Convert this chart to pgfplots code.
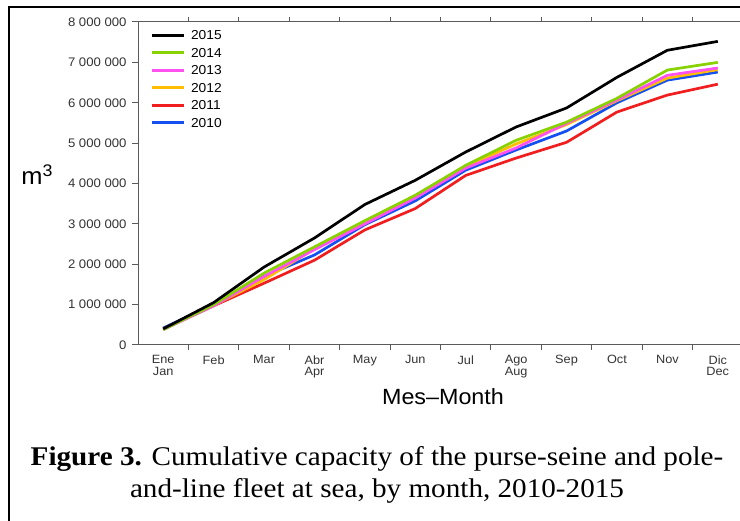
\documentclass[border=0pt]{standalone}
\usepackage{pgfplots}
\pgfplotsset{compat=1.18}
\usepackage{pgfplotstable}
\usepackage{fontspec}
\setmainfont[FakeStretch=1.06]{Liberation Sans}
\newfontfamily\capfont[FakeStretch=1.08]{Liberation Serif}
\definecolor{c2015}{RGB}{0,0,0}
\definecolor{c2014}{RGB}{135,210,0}
\definecolor{c2013}{RGB}{255,80,240}
\definecolor{c2012}{RGB}{255,190,0}
\definecolor{c2011}{RGB}{240,30,30}
\definecolor{c2010}{RGB}{20,80,240}
\definecolor{axgray}{RGB}{90,90,90}

\pgfplotstableread{
m   y2010   y2011   y2012   y2013   y2014   y2015
0   420000  400000  390000  380000  380000  400000
1   1000000 970000  980000  970000  1000000 1050000
2   1700000 1530000 1620000 1700000 1780000 1930000
3   2230000 2100000 2380000 2360000 2430000 2650000
4   2980000 2850000 3020000 3000000 3080000 3480000
5   3570000 3380000 3660000 3640000 3710000 4080000
6   4330000 4200000 4420000 4380000 4450000 4780000
7   4830000 4630000 4980000 4880000 5070000 5400000
8   5300000 5020000 5460000 5490000 5520000 5870000
9   6000000 5770000 6050000 6070000 6110000 6630000
10  6560000 6190000 6610000 6680000 6810000 7300000
11  6760000 6460000 6820000 6860000 7000000 7520000
}\capdata

\begin{document}
\begin{tikzpicture}
\path[use as bounding box] (0,0) rectangle (740bp,521bp);
% outer frame
\draw[line width=1.5bp] (9bp,-5bp) -- (9bp,514bp) -- (760bp,514bp);
\begin{axis}[
  at={(138bp,176bp)}, anchor=south west,
  scale only axis, width=605bp, height=323bp,
  xmin=-0.5, xmax=11.5, ymin=0, ymax=8000000,
  axis line style={axgray, line width=1bp},
  tick style={axgray, line width=1bp},
  tick align=outside,
  major tick length=6bp,
  minor tick length=5bp,
  xtick={0,...,11},
  xticklabels={{Ene\\Jan},Feb,Mar,{Abr\\Apr},May,Jun,Jul,{Ago\\Aug},Sep,Oct,Nov,{Dic\\Dec}},
  major x tick style={draw=none},
  minor xtick={0.5,1.5,...,11.5},
  x tick label style={font=\fontsize{12bp}{11.5bp}\selectfont, align=center, anchor=north, yshift=-1bp, text=black!80},
  ytick={0,1000000,...,8000000},
  yticklabels={0,1\ 000\ 000,2\ 000\ 000,3\ 000\ 000,4\ 000\ 000,5\ 000\ 000,6\ 000\ 000,7\ 000\ 000,8\ 000\ 000},
  y tick label style={font=\fontsize{12.4bp}{12bp}\selectfont, text=black!80, xshift=-2bp},
  scaled y ticks=false,
  legend style={draw=none, fill=none, at={(0,1)}, anchor=north west, xshift=12bp, yshift=-8.5bp,
    font=\fontsize{13bp}{13bp}\selectfont, row sep=8.5bp, inner xsep=0pt, inner ysep=0pt,
    nodes={inner sep=0pt, text height=9bp, text depth=0bp}},
  legend cell align=left,
  legend image code/.code={\draw[#1, line width=3bp] (0bp,0bp) -- (32bp,0bp); \path (38bp,0bp);},
  reverse legend,
  every axis plot/.append style={line width=2.7bp, line join=round},
]
\addplot[c2010] table[x=m, y=y2010] {\capdata};
\addplot[c2011] table[x=m, y=y2011] {\capdata};
\addplot[c2012] table[x=m, y=y2012] {\capdata};
\addplot[c2013] table[x=m, y=y2013] {\capdata};
\addplot[c2014] table[x=m, y=y2014] {\capdata};
\addplot[c2015] table[x=m, y=y2015] {\capdata};
\legend{2010,2011,2012,2013,2014,2015}
\end{axis}
\node[font=\fontsize{24bp}{24bp}\selectfont, anchor=base] at (37bp,336bp) {m$^{\mathrm{3}}$};
\node[font=\fontsize{22bp}{22bp}\selectfont, anchor=base] at (443bp,116bp) {Mes--Month};
\node[font=\capfont\fontsize{27bp}{32bp}\selectfont, align=center, anchor=base] at (377bp,24bp)
  {\textbf{Figure 3.} Cumulative capacity of the purse-seine and pole-\\and-line fleet at sea, by month, 2010-2015};
\end{tikzpicture}
\end{document}
